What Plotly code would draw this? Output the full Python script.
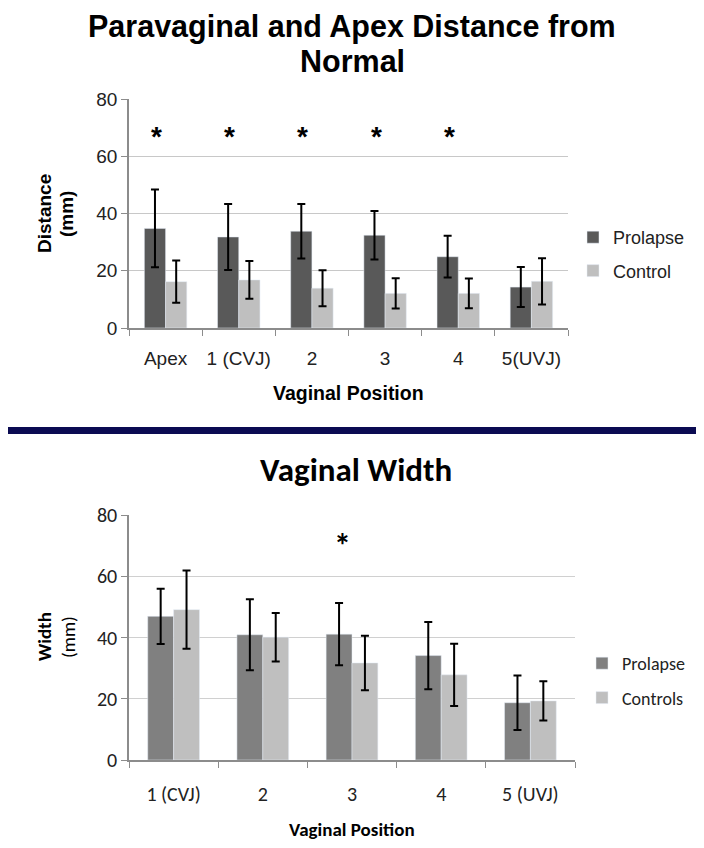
import plotly.graph_objects as go

# top chart: distance from normal
dist_positions = ["Apex", "1 (CVJ)", "2", "3", "4", "5(UVJ)"]
dist_prolapse = [34.8, 31.8, 33.8, 32.4, 24.9, 14.3]
dist_prolapse_err = [13.6, 11.5, 9.5, 8.5, 7.3, 7.0]
dist_control = [16.2, 16.8, 13.9, 12.1, 12.1, 16.3]
dist_control_err = [7.4, 6.6, 6.3, 5.3, 5.2, 8.1]
dist_stars = ["Apex", "1 (CVJ)", "2", "3", "4"]

# bottom chart: vaginal width
width_positions = ["1 (CVJ)", "2", "3", "4", "5 (UVJ)"]
width_prolapse = [46.9, 40.9, 41.1, 34.1, 18.7]
width_prolapse_err = [9.0, 11.6, 10.2, 11.0, 8.9]
width_control = [49.1, 40.1, 31.7, 27.8, 19.3]
width_control_err = [12.8, 7.9, 8.9, 10.2, 6.4]
width_stars = ["3"]

W, H = 704, 848
ARIAL = "Liberation Sans, Arial, sans-serif"
CALIBRI = "Carlito, Lato, sans-serif"


def px_x(p):
    return p / W


def px_y(p):
    return 1 - p / H


def paper_text(fig, text, x, y, font, size, angle=0):
    fig.add_annotation(x=px_x(x), y=px_y(y), xref="paper", yref="paper",
                       showarrow=False, text=text, textangle=angle,
                       xanchor="center", yanchor="middle",
                       font=dict(family=font, size=size, color="black"))


err_style = dict(type="data", visible=True, color="black", thickness=2, width=4)

fig = go.Figure()

fig.add_trace(go.Bar(x=dist_positions, y=dist_prolapse, name="Prolapse",
                     marker_color="#595959", legendgroup="a",
                     error_y=dict(array=dist_prolapse_err, **err_style),
                     xaxis="x", yaxis="y", legend="legend"))
fig.add_trace(go.Bar(x=dist_positions, y=dist_control, name="Control",
                     marker_color="#bfbfbf", legendgroup="b",
                     error_y=dict(array=dist_control_err, **err_style),
                     xaxis="x", yaxis="y", legend="legend"))

fig.add_trace(go.Bar(x=width_positions, y=width_prolapse, name="Prolapse",
                     marker_color="#808080", legendgroup="c",
                     error_y=dict(array=width_prolapse_err, **err_style),
                     xaxis="x2", yaxis="y2", legend="legend2"))
fig.add_trace(go.Bar(x=width_positions, y=width_control, name="Controls",
                     marker_color="#bfbfbf", legendgroup="d",
                     error_y=dict(array=width_control_err, **err_style),
                     xaxis="x2", yaxis="y2", legend="legend2"))

axis_common = dict(showline=True, linecolor="#8c8c8c", linewidth=1.5,
                   ticks="outside", tickcolor="#8c8c8c", ticklen=6)

fig.update_layout(
    width=W, height=H,
    margin=dict(l=0, r=0, t=0, b=0, autoexpand=False),
    paper_bgcolor="white", plot_bgcolor="white",
    barmode="group", bargap=0.42, bargroupgap=0,
    showlegend=True,
    xaxis=dict(domain=[px_x(129), px_x(568)], anchor="y",
               tickson="boundaries", ticklabelstandoff=12, tickangle=0,
               tickfont=dict(family=ARIAL, size=19, color="#222"),
               **axis_common),
    yaxis=dict(domain=[px_y(328), px_y(99)], anchor="x", range=[0, 80], dtick=20,
               showgrid=True, gridcolor="#c8c8c8", gridwidth=1.2, zeroline=False,
               tickfont=dict(family=ARIAL, size=19, color="#222"),
               **axis_common),
    xaxis2=dict(domain=[px_x(129), px_x(575)], anchor="y2",
                tickson="boundaries", ticklabelstandoff=15, tickangle=0,
                tickfont=dict(family=CALIBRI, size=20, color="#222"),
                **axis_common),
    yaxis2=dict(domain=[px_y(760), px_y(515)], anchor="x2", range=[0, 80], dtick=20,
                showgrid=True, gridcolor="#d0d0d0", gridwidth=1.2, zeroline=False,
                tickfont=dict(family=CALIBRI, size=20, color="#222"),
                **axis_common),
    legend=dict(x=px_x(573), y=px_y(219), xanchor="left", yanchor="top",
                font=dict(family=ARIAL, size=18, color="#222"),
                traceorder="grouped", itemwidth=30, tracegroupgap=7),
    legend2=dict(x=px_x(582), y=px_y(645), xanchor="left", yanchor="top",
                 font=dict(family=CALIBRI, size=18, color="#222"),
                 traceorder="grouped", itemwidth=30, tracegroupgap=8),
)

# titles
paper_text(fig, "<b>Paravaginal and Apex Distance from</b>", 352, 26, ARIAL, 30.5)
paper_text(fig, "<b>Normal</b>", 352, 61, ARIAL, 30.5)
paper_text(fig, "<b>Vaginal Width</b>", 356, 470, CALIBRI, 33)

# axis titles
paper_text(fig, "<b>Vaginal Position</b>", 348, 393, ARIAL, 19.5)
paper_text(fig, "<b>Distance</b>", 44, 214, ARIAL, 19, angle=-90)
paper_text(fig, "<b>(mm)</b>", 66, 214, ARIAL, 19, angle=-90)
paper_text(fig, "<b>Vaginal Position</b>", 352, 829, CALIBRI, 19)
paper_text(fig, "<b>Width</b>", 44, 637, CALIBRI, 19, angle=-90)
paper_text(fig, "(mm)", 68, 637, CALIBRI, 19, angle=-90)

# significance markers
for cat in dist_stars:
    fig.add_annotation(x=dist_positions.index(cat), y=67, xref="x", yref="y",
                       showarrow=False, xshift=-9,
                       text="<b>*</b>", font=dict(family=ARIAL, size=28, color="black"))
for cat in width_stars:
    fig.add_annotation(x=width_positions.index(cat), y=70, xref="x2", yref="y2",
                       showarrow=False, xshift=-10,
                       text="<b>*</b>", font=dict(family=CALIBRI, size=34, color="black"))

# divider bar between the two charts
fig.add_shape(type="rect", xref="paper", yref="paper",
              x0=px_x(8), x1=px_x(696), y0=px_y(434), y1=px_y(427),
              fillcolor="#0b0b52", line_width=0)

fig.write_html("out.html", config={"displayModeBar": False},
               post_script="document.body.style.margin='0';")
